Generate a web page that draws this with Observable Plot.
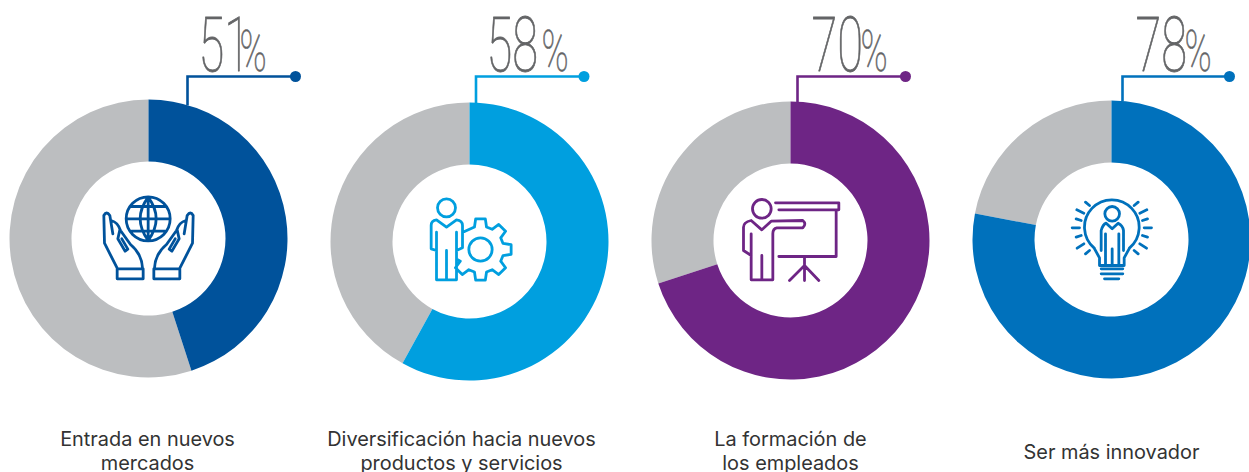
<!DOCTYPE html>
<html>
<head>
<meta charset="utf-8">
<style>html,body{margin:0;padding:0;background:#fff;overflow:hidden}svg{display:block}</style>
<script src="https://cdn.jsdelivr.net/npm/d3@7"></script>
<script src="https://cdn.jsdelivr.net/npm/@observablehq/plot@0.6"></script>
</head>
<body>
<script>
// Data
const categories = ["Entrada", "Diversificación", "Formación", "Innovador"];
const labelValues = [51, 58, 70, 78];
const arcValues = [45, 58, 70, 78];
const captions = ["Entrada en nuevos\nmercados", "Diversificación hacia nuevos\nproductos y servicios", "La formación de\nlos empleados", "Ser más innovador"];

// Styles / layout
const colors = ["#00529b", "#009fdf", "#6e2585", "#0071bc"];
const gray = "#bcbec0", textGray = "#636466", captionColor = "#333";
const centerDy = [2, 5, 4, 3];
const leaderDx = [39, 6.5, 7, 11];
const leaderLen = [108, 108, 108, 107];
const leaderDrop = [29, 27, 26, 25];
const digitDx = [50, 17, 21, 24];
const percentDx = [91, 72, 70, 73];
const captionDx = [-1, -8, 0, 0];
const captionDy = [0, 0, 0, -11];

// Glyph helpers: custom symbols for Plot.dot
const ring = (from, to) => ({draw(ctx, size) {
  const R = Math.sqrt(size / Math.PI);
  d3.arc().context(ctx)({innerRadius: 77, outerRadius: R, startAngle: from * 2 * Math.PI / 100, endAngle: to * 2 * Math.PI / 100});
}});
const leader = (drop, len) => ({draw(ctx) { ctx.moveTo(0, drop); ctx.lineTo(0, 0); ctx.lineTo(len, 0); }});
const icon = (cx, cy, src) => ({draw(ctx) {
  const t = src.match(/[A-Z]|-?[\d.]+/g); let i = 0;
  const X = () => (+t[i++] - cx) / 3, Y = () => (+t[i++] - cy) / 3;
  let c = null;
  while (i < t.length) {
    if (/[A-Z]/.test(t[i])) c = t[i++];
    if (c === "M") { ctx.moveTo(X(), Y()); c = "L"; }
    else if (c === "L") ctx.lineTo(X(), Y());
    else if (c === "Q") { const a = X(), b = Y(); ctx.quadraticCurveTo(a, b, X(), Y()); }
    else if (c === "Z") ctx.closePath();
    else if (c === "C") { const a = X(), b = Y(), r = +t[i++] / 3; ctx.moveTo(a + r, b); ctx.arc(a, b, r, 0, 2 * Math.PI); }
    else if (c === "A") { const a = X(), b = Y(), r = +t[i++] / 3, s = +t[i++] * Math.PI / 180, e = +t[i++] * Math.PI / 180; ctx.moveTo(a + r * Math.cos(s), b + r * Math.sin(s)); ctx.arc(a, b, r, s, e); }
  }
}});
const gearPath = (() => {
  const cx = 240, cy = 237, pts = [[192, 183]];
  for (let a = -90; a <= 135; a += 45) {
    const p = (r, d) => [cx + r * Math.cos((a + d) * Math.PI / 180), cy + r * Math.sin((a + d) * Math.PI / 180)];
    pts.push(p(70, -15), p(93, -9), p(93, 9), p(70, 15));
  }
  pts.push([172, 268]);
  return "M" + pts.map(p => p.map(v => v.toFixed(1)).join(" ")).join(" L ");
})();

const hand = m => {
  const f = x => m ? 408 - x : x;
  return `M ${f(110)} 293 L ${f(72)} 218 L ${f(70)} 135 Q ${f(78)} 120 ${f(88)} 135 L ${f(97)} 190 M ${f(92)} 150 Q ${f(112)} 155 ${f(120)} 180 L ${f(150)} 222 Q ${f(184)} 250 ${f(186)} 293 M ${f(118)} 178 L ${f(112)} 205 L ${f(134)} 242 L ${f(142)} 236 L ${f(124)} 205 M ${f(110)} 295 L ${f(188)} 295 L ${f(188)} 325 L ${f(110)} 325 Z `;
};
const iconPaths = [
  [204, 204, "C 203 145 66 M 203 80 L 203 210 M 137 145 L 269 145 M 153 108 L 253 108 M 153 182 L 253 182 M 203 80 Q 155 145 203 210 Q 251 145 203 80 " + hand(false) + hand(true)],
  [207, 213, "C 138 112 27 M 108 240 L 92 235 L 92 165 Q 92 150 108 148 L 138 170 L 168 148 Q 186 150 186 165 L 186 232 L 168 240 M 108 185 L 108 328 L 168 328 L 168 185 M 138 240 L 138 328 C 240 237 35 " + gearPath],
  [213, 210, "C 127 115 28 M 168 97 L 358 97 L 358 118 L 178 118 M 350 118 L 350 258 L 178 258 M 255 258 L 255 330 M 210 330 L 255 285 L 298 330 M 95 255 L 72 240 L 72 170 Q 72 155 95 150 L 127 178 L 155 152 L 250 150 Q 262 160 250 172 L 172 172 Q 160 174 160 190 L 160 328 L 95 328 L 95 190 M 127 255 L 127 328"],
  [216, 207, "A 217 170 82 130 410 M 164 233 L 180 262 L 180 285 L 254 285 L 254 262 L 270 233 M 185 295 L 250 295 M 185 310 L 250 310 M 195 325 L 238 325 C 218 130 22 M 185 240 L 185 180 Q 190 162 200 158 L 218 175 L 236 158 Q 250 165 252 180 L 252 240 M 198 190 L 198 285 M 238 190 L 238 285 M 218 235 L 218 285 M 98 172 L 120 172 M 110 145 L 125 150 M 112 118 L 133 128 M 138 95 L 150 105 M 110 200 L 125 195 M 113 233 L 133 220 M 138 250 L 150 240 M 336 172 L 314 172 M 324 145 L 309 150 M 322 118 L 301 128 M 296 95 L 284 105 M 324 200 L 309 195 M 321 233 L 301 220 M 296 250 L 284 240"]
];

const squeeze = k => (i, s, v, d, c, next) => {
  const g = next(i, s, v, d, c);
  g.querySelectorAll("text").forEach(t => t.setAttribute("transform", (t.getAttribute("transform") || "") + ` scale(${k},1)`));
  return g;
};

const marks = [];
categories.forEach((cat, k) => {
  const at = [cat];
  const base = {x: d => d, frameAnchor: "middle"};
  const dy = centerDy[k];
  // donut slices
  marks.push(Plot.dot(at, {...base, r: 139, dy, fill: gray, stroke: "none", symbol: ring(arcValues[k], 100)}));
  marks.push(Plot.dot(at, {...base, r: 139, dy, fill: colors[k], stroke: "none", symbol: ring(0, arcValues[k])}));
  // leader
  marks.push(Plot.dot(at, {x: d => d, frameAnchor: "top", dx: leaderDx[k], dy: 76, r: 1, fill: "none", stroke: colors[k], strokeWidth: 2.6, symbol: leader(leaderDrop[k], leaderLen[k])}));
  marks.push(Plot.dot(at, {x: d => d, frameAnchor: "top", dx: leaderDx[k] + leaderLen[k], dy: 76, r: 5.5, fill: colors[k], stroke: "none"}));
  // icon
  const [cx, cy, src] = iconPaths[k];
  marks.push(Plot.dot(at, {...base, r: 1, dy, fill: "none", stroke: colors[k], strokeWidth: 2.8, strokeLinejoin: "round", strokeLinecap: "round", symbol: icon(cx, cy, src)}));
  // percent label
  marks.push(Plot.text(at, {x: d => d, text: () => String(labelValues[k]), frameAnchor: "top", lineAnchor: "bottom", textAnchor: "start", dx: digitDx[k], dy: 70.5, fontFamily: "Roboto", fontWeight: 100, fontSize: 76, fill: textGray, stroke: textGray, strokeWidth: 0.8, render: squeeze(0.62)}));
  marks.push(Plot.text(at, {x: d => d, text: () => "%", frameAnchor: "top", lineAnchor: "bottom", textAnchor: "start", dx: percentDx[k], dy: 70.5, fontFamily: "Roboto", fontWeight: 100, fontSize: 57, fill: textGray, stroke: textGray, strokeWidth: 0.6, render: squeeze(0.64)}));
  // caption
  marks.push(Plot.text(at, {x: d => d, text: () => captions[k], frameAnchor: "bottom", lineAnchor: "bottom", textAnchor: "middle", dx: captionDx[k], dy: -3 + captionDy[k], lineHeight: 1.16, fontFamily: "Inter", fontSize: 19.9, fill: captionColor}));
});

document.body.append(Plot.plot({
  width: 1249, height: 472, margin: 0,
  x: {type: "point", domain: categories, range: [147.2, 1112], padding: 0, axis: null},
  marks
}));
</script>
</body>
</html>
